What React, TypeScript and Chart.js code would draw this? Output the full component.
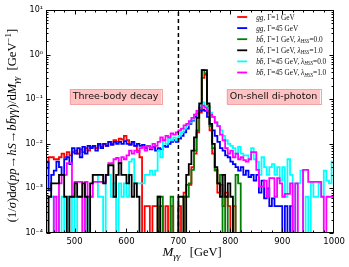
import React, { useEffect, useRef } from 'react';
import { Chart, registerables } from 'chart.js';
Chart.register(...registerables);

// ---- axis / binning ----
const BIN_START = 445;
const BIN_WIDTH = 5;
const X_MIN = 445;
const X_MAX = 1000;
const Y_MIN = 1e-4;
const Y_MAX = 10;
const CUT_MASS = 700;
const X_TICKS = [500, 600, 700, 800, 900, 1000];
const Y_TICKS = [1e-4, 1e-3, 1e-2, 1e-1, 1, 10];
const Y_TICK_LABELS = ['10⁻⁴', '10⁻³', '10⁻²', '10⁻¹', '10⁰', '10¹'];

// ---- histogram contents (5 GeV bins, first bin 445-450 GeV) ----
const ggGamma1 = [
  2.8e-3, 5e-3, 5e-3, 4.5e-3, 4.5e-3, 5e-3, 6e-3, 5e-3, 6.5e-3, 5.5e-3,
  6.5e-3, 7e-3, 6e-3, 7.5e-3, 6.5e-3, 8e-3, 7e-3, 8.5e-3, 9e-3, 8e-3,
  9.5e-3, 8.5e-3, 1e-2, 9e-3, 1.1e-2, 1e-2, 1.2e-2, 1.1e-2, 1.3e-2, 1.25e-2,
  1.5e-2, 1.2e-2, 1e-2, 1.1e-2, 9e-3, 7e-3, 5e-3, 0, 4e-4, 4e-4,
  0, 4e-4, 4e-4, 0, 4e-4, 0, 4e-4, 0, 4e-4, 0,
  0, 4e-4, 0, 8e-4, 1.2e-3, 1.2e-3, 3e-3, 6e-3, 1.8e-2, 5e-2,
  0.3, 0.35, 0.05, 2e-2, 6e-3, 2.5e-3, 8e-4, 1.2e-3, 4e-4, 8e-4,
  4e-4, 0, 4e-4, 0, 0, 0, 0, 0, 0, 0,
  0, 0, 0, 0, 0, 0, 0, 0, 0, 0,
  0, 0, 0, 0, 0, 0, 0, 0, 0, 0,
  0, 0, 0, 0, 0, 0, 0, 0, 0, 0,
  0,
];
const ggGamma45 = [
  4e-3, 9e-4, 2e-3, 2.5e-3, 4e-3, 3e-3, 2e-3, 4.5e-3, 5e-3, 3.5e-3,
  8e-3, 6e-3, 8e-3, 5e-3, 8.5e-3, 6e-3, 9e-3, 8e-3, 9e-3, 7e-3,
  1e-2, 8e-3, 1e-2, 9e-3, 1.1e-2, 9.5e-3, 1.1e-2, 1e-2, 1.1e-2, 1e-2,
  1.15e-2, 1e-2, 9.5e-3, 1.1e-2, 9e-3, 1e-2, 9e-3, 9.5e-3, 8e-3, 9e-3,
  7.5e-3, 8.5e-3, 7e-3, 8e-3, 7.5e-3, 9e-3, 8.5e-3, 1e-2, 1.1e-2, 1.2e-2,
  1.1e-2, 1.3e-2, 1.5e-2, 1.8e-2, 2.2e-2, 2.8e-2, 3.3e-2, 4e-2, 4.8e-2, 5.5e-2,
  5.8e-2, 5.5e-2, 4e-2, 2.8e-2, 2e-2, 1.5e-2, 1.1e-2, 8e-3, 7e-3, 5.5e-3,
  5e-3, 4e-3, 3.5e-3, 3e-3, 2.5e-3, 3e-3, 2e-3, 2.5e-3, 1.8e-3, 2e-3,
  1.5e-3, 2e-3, 8e-4, 1.5e-3, 6e-4, 1e-3, 4e-4, 6e-4, 4e-4, 4e-4,
  4e-4, 0, 4e-4, 0, 4e-4, 0, 0, 0, 0, 0,
  0, 0, 0, 0, 0, 0, 0, 0, 0, 0,
  0,
];
const bbGamma1Lam0 = [
  0, 0, 0, 0, 0, 0, 0, 0, 0, 0,
  0, 0, 0, 0, 0, 0, 0, 0, 0, 0,
  0, 0, 0, 0, 0, 0, 0, 0, 0, 0,
  0, 0, 0, 0, 0, 0, 0, 0, 0, 0,
  0, 0, 0, 6.5e-4, 6.5e-4, 0, 0, 0, 6.5e-4, 0,
  0, 0, 0, 6.5e-4, 6.5e-4, 1.3e-3, 2.6e-3, 7e-3, 2e-2, 6e-2,
  0.45, 0.38, 0.07, 2.5e-2, 8e-3, 2.6e-3, 1.3e-3, 2e-3, 0, 6.5e-4,
  0, 0, 0, 2e-3, 1.3e-3, 0, 0, 0, 0, 0,
  0, 0, 0, 0, 0, 0, 0, 0, 0, 0,
  0, 0, 0, 0, 0, 0, 0, 0, 0, 0,
  0, 0, 0, 0, 0, 0, 0, 0, 0, 0,
  0,
];
const bbGamma1Lam1 = [
  0, 6.5e-4, 1.3e-3, 1.3e-3, 1.3e-3, 2e-3, 2e-3, 6.5e-4, 0, 6.5e-4,
  6.5e-4, 1.3e-3, 6.5e-4, 6.5e-4, 1.3e-3, 6.5e-4, 0, 1.3e-3, 2e-3, 2e-3,
  2e-3, 2e-3, 1.3e-3, 2e-3, 3.3e-3, 3.3e-3, 6.5e-4, 2e-3, 3.7e-3, 2e-3,
  2e-3, 1.3e-3, 2e-3, 6.5e-4, 1.3e-3, 6.5e-4, 0, 0, 0, 0,
  0, 0, 0, 6.5e-4, 0, 0, 0, 0, 0, 0,
  0, 6.5e-4, 6.5e-4, 0, 2e-3, 3.5e-3, 7e-3, 1.4e-2, 3.8e-2, 8e-2,
  0.45, 0.45, 8e-2, 2.8e-2, 1e-2, 3e-3, 1.3e-3, 6.5e-4, 2e-3, 6.5e-4,
  1.3e-3, 6.5e-4, 0, 0, 0, 0, 0, 0, 0, 0,
  0, 0, 0, 0, 0, 0, 0, 0, 0, 0,
  0, 0, 0, 0, 0, 0, 0, 0, 0, 0,
  0, 0, 0, 0, 0, 0, 0, 0, 0, 0,
  0,
];
const bbGamma45Lam0 = [
  6.5e-4, 6.5e-4, 6.5e-4, 0, 6.5e-4, 0, 6.5e-4, 0, 6.5e-4, 0,
  6.5e-4, 0, 6.5e-4, 6.5e-4, 0, 6.5e-4, 0, 6.5e-4, 2e-3, 2e-3,
  6.5e-4, 6.5e-4, 0, 2e-3, 2e-3, 6.5e-4, 1.3e-3, 0, 1.3e-3, 6.5e-4,
  1.3e-3, 6.5e-4, 4e-3, 4.5e-3, 1.3e-3, 1.3e-3, 1.3e-3, 1.3e-3, 2e-3, 2e-3,
  2.5e-3, 2e-3, 2.5e-3, 7e-3, 5e-3, 1.2e-2, 1e-2, 1.3e-2, 1.2e-2, 1.4e-2,
  1.2e-2, 1.5e-2, 1.8e-2, 2.2e-2, 2.6e-2, 3e-2, 3.5e-2, 4.5e-2, 5.5e-2, 7e-2,
  8.5e-2, 7e-2, 6e-2, 5e-2, 4e-2, 3e-2, 2.5e-2, 2e-2, 1.5e-2, 1.2e-2,
  1e-2, 9e-3, 8e-3, 6e-3, 8.5e-3, 6e-3, 5.5e-3, 5.5e-3, 4.5e-3, 8e-3,
  4.5e-3, 4e-3, 2e-3, 5e-3, 3e-3, 2e-3, 3e-3, 3.5e-3, 2e-3, 3e-3,
  1.5e-3, 3e-3, 6.5e-4, 4.5e-3, 2e-3, 0, 1.3e-3, 1.3e-3, 2.5e-3, 0,
  6.5e-4, 0, 1.3e-3, 6.5e-4, 6.5e-4, 1.3e-3, 6.5e-4, 2.5e-3, 1.5e-3, 1.3e-3,
  4e-3,
];
const bbGamma45Lam1 = [
  0, 0, 0, 6.5e-4, 0, 1.3e-3, 2e-3, 2e-3, 3.7e-3, 3.7e-3,
  6.5e-4, 1.4e-3, 1.4e-3, 1.4e-3, 0, 1.4e-3, 6.5e-4, 6.5e-4, 1.4e-3, 1.4e-3,
  1.4e-3, 1.4e-3, 1.4e-3, 2e-3, 3.7e-3, 3.7e-3, 4.5e-3, 4.8e-3, 3.7e-3, 5e-3,
  4.5e-3, 5.5e-3, 7e-3, 6e-3, 7e-3, 6.5e-3, 8e-3, 8.5e-3, 7e-3, 9e-3,
  8e-3, 1e-2, 9e-3, 1.1e-2, 1.4e-2, 1.2e-2, 1.5e-2, 1.4e-2, 1.7e-2, 1.6e-2,
  1.8e-2, 2e-2, 2.2e-2, 2.6e-2, 2.8e-2, 3.2e-2, 3.8e-2, 4.5e-2, 5.5e-2, 6.5e-2,
  7.2e-2, 6.5e-2, 5.5e-2, 4.5e-2, 4e-2, 3e-2, 2.5e-2, 1.6e-2, 1.2e-2, 8e-3,
  6e-3, 7e-3, 5e-3, 6e-3, 4.5e-3, 5e-3, 4.3e-3, 4e-3, 4.5e-3, 6.5e-3,
  6.5e-3, 2.6e-3, 1.1e-3, 1.1e-3, 1.5e-3, 6.5e-4, 1.7e-3, 1.7e-3, 6.5e-4, 1.7e-3,
  1.3e-3, 6.5e-4, 7.5e-4, 7.5e-4, 1.3e-3, 0, 1.3e-3, 0, 0, 2.6e-3,
  2.6e-3, 1.4e-3, 1.4e-3, 1.4e-3, 1.4e-3, 1.4e-3, 6.5e-4, 0, 6.5e-4, 6.5e-4,
  6.5e-4,
];

const SERIF = '"Liberation Serif", "DejaVu Serif", serif';
const SANS = '"DejaVu Sans", sans-serif';

type Seg = { t: string; f: string; dy?: number };
const serif = (s: number, it = false) => `${it ? 'italic ' : ''}${s}px ${SERIF}`;

// empty bins sit far below the axis floor (log scale cannot show 0)
const EMPTY_FLOOR = 1e-7;
const toSteps = (vals: number[]) => {
  const pts = vals.map((v, i) => ({ x: BIN_START + i * BIN_WIDTH, y: v > 0 ? v : EMPTY_FLOOR }));
  const last = vals[vals.length - 1];
  pts.push({ x: BIN_START + vals.length * BIN_WIDTH, y: last > 0 ? last : EMPTY_FLOOR });
  return pts;
};

const bbLabel = (g: string, lam: string, s: number): Seg[] => [
  { t: 'bb̄', f: serif(s, true) },
  { t: `, Γ=${g} GeV, `, f: serif(s) },
  { t: 'λ', f: serif(s, true) },
  { t: 'HSS', f: serif(s * 0.7, true), dy: 1.5 },
  { t: `=${lam}`, f: serif(s) },
];
const ggLabel = (g: string, s: number): Seg[] => [
  { t: 'gg', f: serif(s, true) },
  { t: `, Γ=${g} GeV`, f: serif(s) },
];

const SERIES = [
  { key: 'gg1', data: ggGamma1, color: '#ff0000', order: 5, legend: (s: number) => ggLabel('1', s) },
  { key: 'gg45', data: ggGamma45, color: '#0000ff', order: 4, legend: (s: number) => ggLabel('45', s) },
  { key: 'bb1l0', data: bbGamma1Lam0, color: '#008000', order: 3, legend: (s: number) => bbLabel('1', '0.0', s) },
  { key: 'bb1l1', data: bbGamma1Lam1, color: '#000000', order: 0, legend: (s: number) => bbLabel('1', '1.0', s) },
  { key: 'bb45l0', data: bbGamma45Lam0, color: '#00ffff', order: 2, legend: (s: number) => bbLabel('45', '0.0', s) },
  { key: 'bb45l1', data: bbGamma45Lam1, color: '#ff00ff', order: 1, legend: (s: number) => bbLabel('45', '1.0', s) },
];

const ANNOTATIONS = [
  { text: 'Three-body decay', x: 579, y: 0.115 },
  { text: 'On-shell di-photon', x: 883, y: 0.115 },
];

function drawRich(ctx: CanvasRenderingContext2D, x: number, y: number, segs: Seg[], align: 'left' | 'center') {
  let total = 0;
  for (const s of segs) { ctx.font = s.f; total += ctx.measureText(s.t).width; }
  let cx = align === 'center' ? x - total / 2 : x;
  ctx.textAlign = 'left';
  ctx.textBaseline = 'alphabetic';
  for (const s of segs) {
    ctx.font = s.f;
    ctx.fillText(s.t, cx, y + (s.dy || 0));
    cx += ctx.measureText(s.t).width;
  }
}

const decor = {
  id: 'decor',
  afterDatasetsDraw(chart: any) {
    const { ctx, chartArea: a, scales } = chart;
    const xs = scales.x, ys = scales.y;
    ctx.save();
    // annotation boxes
    for (const an of ANNOTATIONS) {
      const px = xs.getPixelForValue(an.x);
      const py = ys.getPixelForValue(an.y);
      ctx.font = `9.5px ${SANS}`;
      const w = ctx.measureText(an.text).width + 6;
      const h = 15;
      ctx.fillStyle = 'rgba(255,190,190,0.95)';
      ctx.strokeStyle = '#f3a3a3';
      ctx.lineWidth = 1;
      ctx.fillRect(px - w / 2, py - h / 2, w, h);
      ctx.strokeRect(Math.round(px - w / 2) + 0.5, Math.round(py - h / 2) + 0.5, Math.round(w), h);
      ctx.fillStyle = '#111';
      ctx.textAlign = 'center';
      ctx.textBaseline = 'middle';
      ctx.fillText(an.text, px, py + 0.5);
    }
    // legend
    const lx0 = a.right - 97, lx1 = a.right - 87, tx = a.right - 78;
    SERIES.forEach((s, i) => {
      const yy = a.top + 7 + i * 11.1;
      ctx.strokeStyle = s.color;
      ctx.lineWidth = 1.8;
      ctx.beginPath();
      ctx.moveTo(lx0, yy);
      ctx.lineTo(lx1, yy);
      ctx.stroke();
      ctx.fillStyle = '#111';
      drawRich(ctx, tx, yy + 2.5, s.legend(7.3), 'left');
    });
    // frame
    ctx.strokeStyle = '#000';
    ctx.lineWidth = 1;
    const L = Math.round(a.left) + 0.5, R = Math.round(a.right) - 0.5;
    const T = Math.round(a.top) + 0.5, B = Math.round(a.bottom) - 0.5;
    ctx.strokeRect(L, T, R - L, B - T);
    ctx.beginPath();
    for (let v = 460; v < X_MAX; v += 20) {
      const px = Math.round(xs.getPixelForValue(v)) + 0.5;
      const len = v % 100 === 0 ? 4 : 2;
      ctx.moveTo(px, B); ctx.lineTo(px, B - len);
      ctx.moveTo(px, T); ctx.lineTo(px, T + len);
    }
    for (let d = -4; d <= 0; d++) {
      for (let k = 1; k <= 9; k++) {
        const v = k * Math.pow(10, d);
        const py = Math.round(ys.getPixelForValue(v)) + 0.5;
        const len = k === 1 ? 4 : 2;
        ctx.moveTo(L, py); ctx.lineTo(L + len, py);
        ctx.moveTo(R, py); ctx.lineTo(R - len, py);
      }
    }
    ctx.stroke();
    ctx.restore();
  },
  afterDraw(chart: any) {
    const { ctx, chartArea: a } = chart;
    ctx.save();
    ctx.fillStyle = '#000';
    // x title
    drawRich(ctx, (a.left + a.right) / 2 + 2, 256, [
      { t: 'M', f: serif(13, true) },
      { t: 'γγ', f: serif(9, true), dy: 3 },
      { t: '   [GeV]', f: serif(12.5) },
    ], 'center');
    // y title
    ctx.translate(16, (a.top + a.bottom) / 2 + 4);
    ctx.rotate(-Math.PI / 2);
    const S = 12.6;
    drawRich(ctx, 0, 0, [
      { t: '(1/', f: serif(S) },
      { t: 'σ', f: serif(S, true) },
      { t: ')d', f: serif(S) },
      { t: 'σ', f: serif(S, true) },
      { t: '(', f: serif(S) },
      { t: 'pp', f: serif(S, true) },
      { t: '→', f: serif(S) },
      { t: 'hS', f: serif(S, true) },
      { t: '→', f: serif(S) },
      { t: 'bb̄γγ', f: serif(S, true) },
      { t: ')/d', f: serif(S) },
      { t: 'M', f: serif(S, true) },
      { t: 'γγ', f: serif(S * 0.7, true), dy: 3 },
      { t: '  [GeV', f: serif(S) },
      { t: '−1', f: serif(S * 0.7), dy: -5 },
      { t: ']', f: serif(S) },
    ], 'center');
    ctx.restore();
  },
};

export default function App() {
  const ref = useRef<HTMLCanvasElement>(null);
  useEffect(() => {
    const datasets: any[] = SERIES.map((s) => ({
      label: s.key,
      data: toSteps(s.data),
      borderColor: s.color,
      backgroundColor: s.color,
      borderWidth: 1.8,
      pointRadius: 0,
      stepped: true,
      fill: false,
      order: s.order,
    }));
    datasets.push({
      label: 'cut',
      data: [{ x: CUT_MASS, y: Y_MIN }, { x: CUT_MASS, y: Y_MAX }],
      borderColor: '#000',
      borderWidth: 1.5,
      borderDash: [4, 3],
      pointRadius: 0,
      fill: false,
      order: -1,
    });
    const chart = new Chart(ref.current!, {
      type: 'line',
      data: { datasets },
      plugins: [decor],
      options: {
        animation: false,
        responsive: false,
        devicePixelRatio: 1,
        layout: { padding: { top: 10, right: 14, left: 0, bottom: 0 } },
        plugins: { legend: { display: false }, tooltip: { enabled: false } },
        scales: {
          x: {
            type: 'linear',
            min: X_MIN,
            max: X_MAX,
            grid: { display: false, drawTicks: false },
            border: { display: false },
            afterBuildTicks: (sc: any) => { sc.ticks = X_TICKS.map((v) => ({ value: v })); },
            afterFit: (sc: any) => { sc.height = 34; },
            ticks: {
              autoSkip: false,
              maxRotation: 0,
              padding: 4,
              color: '#000',
              font: { family: SANS, size: 8.5 },
              callback: (v: any) => String(v),
            },
          },
          y: {
            type: 'logarithmic',
            min: Y_MIN,
            max: Y_MAX,
            grid: { display: false, drawTicks: false },
            border: { display: false },
            afterBuildTicks: (sc: any) => { sc.ticks = Y_TICKS.map((v) => ({ value: v })); },
            afterFit: (sc: any) => { sc.width = 46; },
            ticks: {
              autoSkip: false,
              padding: 3,
              color: '#000',
              font: { family: SANS, size: 8 },
              callback: (v: any) => {
                const i = Y_TICKS.findIndex((t) => Math.abs(Math.log10(t) - Math.log10(v)) < 1e-6);
                return i >= 0 ? Y_TICK_LABELS[i] : '';
              },
            },
          },
        },
      } as any,
    });
    return () => chart.destroy();
  }, []);
  return (
    <div style={{ position: 'fixed', left: 0, top: 0, width: 349, height: 267, background: '#fff' }}>
      <canvas ref={ref} width={349} height={267} style={{ display: 'block' }} />
    </div>
  );
}
